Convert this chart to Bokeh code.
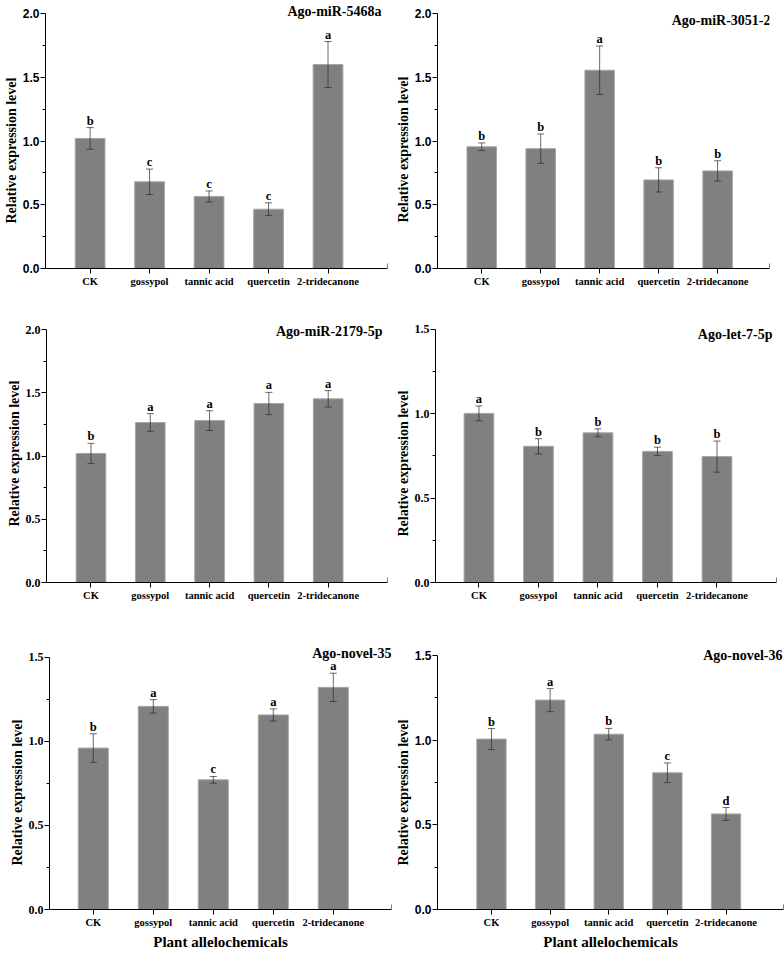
from bokeh.plotting import figure
from bokeh.models import ColumnDataSource, Whisker, TeeHead, Label, FixedTicker, NumeralTickFormatter, Title
from bokeh.layouts import column, row
from bokeh.embed import file_html
from bokeh.resources import INLINE
from bokeh.core.properties import value

# ---------------- data ----------------
categories = ["CK", "gossypol", "tannic acid", "quercetin", "2-tridecanone"]
x_axis_title = "Plant allelochemicals"
y_axis_title = "Relative expression level"

titles = ["Ago-miR-5468a", "Ago-miR-3051-2", "Ago-miR-2179-5p",
          "Ago-let-7-5p", "Ago-novel-35", "Ago-novel-36"]

mir5468a_mean = [1.02, 0.68, 0.565, 0.465, 1.60]
mir5468a_err = [0.085, 0.10, 0.043, 0.05, 0.18]
mir5468a_sig = ["b", "c", "c", "c", "a"]

mir3051_mean = [0.955, 0.94, 1.555, 0.695, 0.765]
mir3051_err = [0.03, 0.115, 0.19, 0.095, 0.08]
mir3051_sig = ["b", "b", "a", "b", "b"]

mir2179_mean = [1.02, 1.265, 1.28, 1.415, 1.452]
mir2179_err = [0.08, 0.07, 0.078, 0.088, 0.065]
mir2179_sig = ["b", "a", "a", "a", "a"]

let7_mean = [1.002, 0.807, 0.887, 0.777, 0.746]
let7_err = [0.044, 0.045, 0.023, 0.025, 0.092]
let7_sig = ["a", "b", "b", "b", "b"]

novel35_mean = [0.96, 1.208, 0.771, 1.157, 1.321]
novel35_err = [0.085, 0.04, 0.02, 0.036, 0.084]
novel35_sig = ["b", "a", "c", "a", "a"]

novel36_mean = [1.006, 1.236, 1.035, 0.807, 0.564]
novel36_err = [0.062, 0.068, 0.034, 0.058, 0.038]
novel36_sig = ["b", "a", "b", "c", "d"]

y_tops = [2.0, 2.0, 2.0, 1.5, 1.5, 1.5]

panels_data = [
    (mir5468a_mean, mir5468a_err, mir5468a_sig),
    (mir3051_mean, mir3051_err, mir3051_sig),
    (mir2179_mean, mir2179_err, mir2179_sig),
    (let7_mean, let7_err, let7_sig),
    (novel35_mean, novel35_err, novel35_sig),
    (novel36_mean, novel36_err, novel36_sig),
]

# ---------------- layout / style ----------------
# (width, height, border_left, border_right, top_px, bottom_px, pad_px,
#  x_start, x_end, tick_font, title_x_offset, title_y_offset, ylabel_centre, bottom_row)
layout_cfg = [
    (392, 300, 43, 5, 13, 268, 13, 0.25, 6.00, "Liberation Sans", -6, 2, 146, False),
    (392, 300, 40, 15, 13, 268, 13, 0.25, 5.88, "Liberation Sans", 1, -7, 145, False),
    (392, 320, 46, 5, 29, 282, 12, 0.25, 6.00, "Liberation Serif", -5, -2, 149, False),
    (392, 320, 40, 8, 27, 283, 12, 0.27, 6.00, "Liberation Serif", -4, -5, 160, False),
    (392, 332, 49, 1, 36, 292, 16, 0.27, 5.97, "Liberation Serif", 0, 4, 171, True),
    (392, 332, 37, 1, 35, 291, 14, 0.08, 5.98, "Liberation Sans", -1, 0, 170, True),
]
YLAB_HALF_LEN = 77

BAR_FILL = "#808080"
BAR_LINE = "#a6a6a6"
ERR_COLOR = "#2a2a2a"
SERIF = "Liberation Serif"

figs = []
for i, ((mean, err, sig), cfg) in enumerate(zip(panels_data, layout_cfg)):
    (w, h, bl, br, top_px, bottom_px, pad_px, xs, xe, tick_font,
     tx_off, ty_off, ylab_c, bottom) = cfg
    ytop = y_tops[i]
    y_end = ytop + pad_px * ytop / (bottom_px - top_px)
    xs_pos = list(range(1, len(categories) + 1))
    src = ColumnDataSource(dict(
        x=xs_pos,
        top=mean,
        upper=[m + e for m, e in zip(mean, err)],
        lower=[m - e for m, e in zip(mean, err)],
        sig=sig,
    ))
    p = figure(width=w, height=h, x_range=(xs, xe), y_range=(0, y_end),
               output_backend="svg", toolbar_location=None, tools="",
               min_border_left=bl, min_border_right=br,
               min_border_top=top_px - pad_px, min_border_bottom=h - bottom_px)
    p.outline_line_color = None
    p.xgrid.visible = False
    p.ygrid.visible = False
    p.background_fill_color = "white"
    p.border_fill_color = "white"

    p.vbar(x="x", top="top", width=0.5, bottom=0, source=src,
           fill_color=BAR_FILL, line_color=BAR_LINE, line_width=1)
    wh = Whisker(base="x", upper="upper", lower="lower", source=src, level="overlay",
                 line_color=ERR_COLOR, line_alpha=0.7, line_width=1,
                 upper_head=TeeHead(size=7, line_color=ERR_COLOR, line_alpha=0.7, line_width=1),
                 lower_head=TeeHead(size=7, line_color=ERR_COLOR, line_alpha=0.7, line_width=1))
    p.add_layout(wh)
    p.text(x="x", y="upper", text="sig", source=src, text_align="center",
           text_baseline="alphabetic", y_offset=-7,
           text_font=value(SERIF), text_font_style="bold",
           text_font_size="12.5px", text_color="black")

    # small upward end stub on the x axis
    p.segment(x0=[xe], y0=[0], x1=[xe], y1=[ytop * 0.02], line_color="black", line_width=1)

    # x axis
    xa = p.xaxis[0]
    xa.ticker = FixedTicker(ticks=xs_pos)
    xa.major_label_overrides = {k: c for k, c in zip(xs_pos, categories)}
    xa.major_label_text_font = SERIF
    xa.major_label_text_font_style = "bold"
    xa.major_label_text_font_size = "10.5px"
    xa.major_label_text_color = "black"
    xa.major_tick_out = 5
    xa.major_tick_in = 0
    xa.minor_tick_out = 0
    xa.major_label_standoff = 2
    xa.axis_line_color = "black"
    if bottom:
        xa.axis_label = x_axis_title
        xa.axis_label_text_font = SERIF
        xa.axis_label_text_font_style = "bold"
        xa.axis_label_text_font_size = "15px"
        xa.axis_label_standoff = 3
        xa.axis_label_text_color = "black"

    # y axis
    ya = p.yaxis[0]
    majors = [k * 0.5 for k in range(int(round(ytop / 0.5)) + 1)]
    minors = [m + 0.25 for m in majors[:-1]]
    ya.ticker = FixedTicker(ticks=majors, minor_ticks=minors)
    ya.bounds = (0, ytop)
    ya.formatter = NumeralTickFormatter(format="0.0")
    ya.major_label_text_font = tick_font
    ya.major_label_text_font_style = "bold"
    ya.major_label_text_font_size = "12px"
    ya.major_label_text_color = "black"
    ya.major_tick_out = 5
    ya.major_tick_in = 0
    ya.minor_tick_out = 3
    ya.minor_tick_in = 0
    ya.major_label_standoff = 1
    ya.axis_line_color = "black"

    # y axis title as a left-side title, placed from the frame bottom
    ylab = Title(text=y_axis_title, align="left", standoff=2,
                 offset=bottom_px - ylab_c - YLAB_HALF_LEN,
                 text_font=SERIF, text_font_style="bold", text_font_size="14px",
                 text_color="black")
    p.add_layout(ylab, "left")

    lab = Label(x=xe, y=ytop, x_units="data", y_units="data", text=titles[i],
                text_align="right", text_baseline="alphabetic",
                x_offset=tx_off, y_offset=ty_off,
                text_font=SERIF, text_font_style="bold", text_font_size="14px",
                text_color="black")
    p.add_layout(lab)
    figs.append(p)

layout = column(row(figs[0], figs[1]), row(figs[2], figs[3]), row(figs[4], figs[5]))

open("out.html", "w").write(file_html(layout, INLINE))
